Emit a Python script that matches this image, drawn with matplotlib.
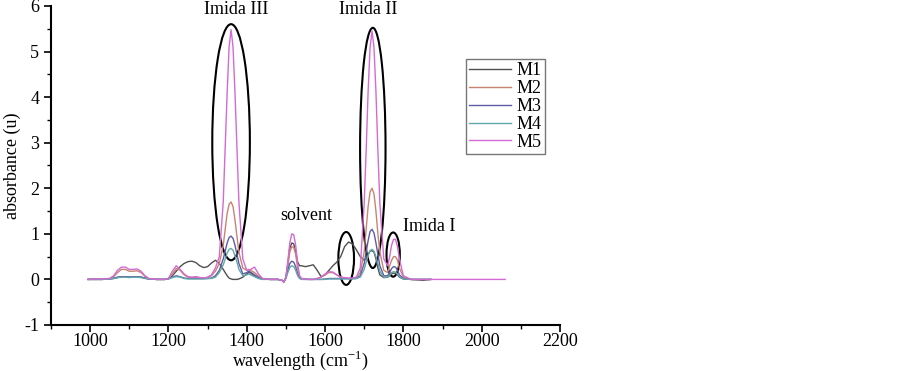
import numpy as np
import matplotlib
matplotlib.use("Agg")
import matplotlib.pyplot as plt
from matplotlib.patches import Ellipse
from matplotlib.ticker import MultipleLocator

plt.rcParams['font.family'] = ['Liberation Serif', 'DejaVu Serif']
plt.rcParams['mathtext.fontset'] = 'custom'
plt.rcParams['mathtext.rm'] = 'Liberation Serif'
plt.rcParams['font.size'] = 13
plt.rcParams['axes.unicode_minus'] = False

nan = np.nan

# wavenumber grid (cm^-1)
wavenumber = [995, 1010, 1030, 1050, 1060, 1070, 1080, 1090, 1100, 1110,
              1120, 1130, 1140, 1150, 1170, 1190, 1200, 1210, 1220, 1230,
              1240, 1250, 1260, 1270, 1280, 1290, 1300, 1310, 1320, 1330,
              1340, 1345, 1350, 1355, 1360, 1365, 1370, 1375, 1380, 1390,
              1400, 1405, 1410, 1420, 1430, 1440, 1460, 1480, 1490, 1495,
              1500, 1505, 1510, 1515, 1520, 1525, 1530, 1535, 1540, 1550,
              1560, 1570, 1580, 1590, 1600, 1610, 1620, 1630, 1640, 1650,
              1660, 1670, 1680, 1690, 1700, 1705, 1710, 1715, 1720, 1725,
              1730, 1735, 1740, 1750, 1760, 1765, 1770, 1775, 1780, 1785,
              1790, 1800, 1820, 1850, 1870, 1900, 2000, 2060]

m1 = [0, 0, 0, 0.01, 0.02, 0.04, 0.06, 0.06, 0.05, 0.06,
      0.06, 0.05, 0.03, 0.01, 0, 0, 0.02, 0.08, 0.18, 0.28,
      0.35, 0.39, 0.40, 0.37, 0.30, 0.26, 0.28, 0.36, 0.42, 0.35,
      0.22, 0.15, 0.08, 0.03, 0.01, 0, 0, 0, 0.01, 0.05,
      0.12, 0.15, 0.14, 0.08, 0.03, 0.01, 0, 0, -0.02, -0.06,
      0.04, 0.35, 0.68, 0.80, 0.78, 0.60, 0.38, 0.30, 0.30, 0.28,
      0.30, 0.32, 0.20, 0.06, 0.10, 0.20, 0.30, 0.38, 0.50, 0.72,
      0.82, 0.78, 0.65, 0.50, 0.42, 0.45, 0.55, 0.62, 0.63, 0.60,
      0.45, 0.25, 0.10, 0.04, 0.05, 0.08, 0.12, 0.14, 0.13, 0.10,
      0.05, 0.01, 0, -0.02, 0, nan, nan, nan]

m2 = [0, 0.01, 0.01, 0.02, 0.06, 0.15, 0.22, 0.22, 0.18, 0.18,
      0.19, 0.15, 0.07, 0.02, 0, 0, 0.02, 0.12, 0.24, 0.20,
      0.10, 0.05, 0.04, 0.05, 0.04, 0.03, 0.04, 0.08, 0.18, 0.35,
      0.75, 1.10, 1.45, 1.65, 1.70, 1.60, 1.30, 0.95, 0.60, 0.25,
      0.20, 0.22, 0.20, 0.15, 0.07, 0.02, 0, 0, -0.02, -0.05,
      0.04, 0.30, 0.60, 0.72, 0.70, 0.55, 0.25, 0.06, 0.02, 0.01,
      0, 0, 0.02, 0.05, 0.10, 0.15, 0.15, 0.10, 0.05, 0.03,
      0.02, 0.02, 0.04, 0.15, 0.60, 1.10, 1.60, 1.92, 2.00, 1.88,
      1.50, 1.00, 0.60, 0.20, 0.15, 0.30, 0.42, 0.50, 0.50, 0.42,
      0.25, 0.05, 0, 0, 0, nan, nan, nan]

m3 = [0, 0, 0, 0.01, 0.03, 0.05, 0.06, 0.06, 0.05, 0.06,
      0.06, 0.05, 0.03, 0.01, 0, 0, 0.01, 0.05, 0.08, 0.06,
      0.03, 0.02, 0.02, 0.02, 0.02, 0.02, 0.02, 0.03, 0.08, 0.20,
      0.45, 0.62, 0.80, 0.92, 0.95, 0.90, 0.75, 0.55, 0.35, 0.12,
      0.15, 0.18, 0.16, 0.10, 0.04, 0.01, 0, 0, -0.02, -0.05,
      0.03, 0.20, 0.35, 0.40, 0.38, 0.28, 0.12, 0.03, 0.01, 0,
      0, 0, 0, 0, 0.01, 0.02, 0.02, 0.02, 0.02, 0.02,
      0.02, 0.02, 0.02, 0.08, 0.35, 0.60, 0.85, 1.05, 1.10, 1.02,
      0.80, 0.55, 0.30, 0.08, 0.08, 0.15, 0.24, 0.28, 0.27, 0.20,
      0.10, 0.02, 0, 0, 0, nan, nan, nan]

m4 = [0, 0, 0, 0.01, 0.02, 0.04, 0.05, 0.05, 0.04, 0.05,
      0.05, 0.04, 0.02, 0.01, 0, 0, 0.01, 0.04, 0.06, 0.05,
      0.02, 0.01, 0.01, 0.01, 0.01, 0.01, 0.02, 0.02, 0.05, 0.15,
      0.32, 0.45, 0.58, 0.66, 0.68, 0.64, 0.52, 0.38, 0.22, 0.08,
      0.10, 0.12, 0.10, 0.06, 0.02, 0, 0, 0, -0.02, -0.04,
      0.02, 0.15, 0.26, 0.30, 0.28, 0.20, 0.08, 0.02, 0, 0,
      0, 0, 0, 0, 0, 0.01, 0.01, 0.01, 0.01, 0.01,
      0.01, 0.01, 0.02, 0.05, 0.22, 0.38, 0.52, 0.63, 0.66, 0.62,
      0.50, 0.35, 0.18, 0.05, 0.05, 0.10, 0.15, 0.17, 0.16, 0.12,
      0.06, 0.01, 0, 0, 0, nan, nan, nan]

m5 = [0, 0.01, 0.01, 0.02, 0.08, 0.20, 0.27, 0.27, 0.22, 0.22,
      0.23, 0.18, 0.08, 0.02, 0, 0, 0.02, 0.18, 0.30, 0.22,
      0.12, 0.06, 0.05, 0.06, 0.04, 0.03, 0.05, 0.10, 0.25, 0.50,
      1.70, 2.90, 4.10, 5.10, 5.48, 5.10, 4.10, 2.90, 1.70, 0.45,
      0.20, 0.20, 0.22, 0.27, 0.12, 0.02, 0, 0, -0.02, -0.06,
      0.05, 0.40, 0.80, 1.00, 0.98, 0.75, 0.35, 0.08, 0.02, 0.01,
      0, 0, 0.02, 0.05, 0.12, 0.17, 0.16, 0.10, 0.05, 0.04,
      0.03, 0.03, 0.05, 0.25, 1.67, 2.82, 4.12, 5.09, 5.45, 5.09,
      4.12, 2.82, 1.67, 0.45, 0.30, 0.50, 0.75, 0.88, 0.88, 0.72,
      0.45, 0.08, 0, 0, 0, 0, 0, 0]

labels = ['M1', 'M2', 'M3', 'M4', 'M5']
colours = ['#4f4f4f', '#c88470', '#5c5ca6', '#62a8aa', '#d46ad4']

# annotation ellipses: centre x, centre y, width, height
ell_x = [1360, 1722, 1654, 1774]
ell_y = [3.01, 2.885, 0.46, 0.545]
ell_w = [96, 65, 40, 34]
ell_h = [5.18, 5.27, 1.16, 0.97]

notes = ['Imida III', 'Imida II', 'solvent', 'Imida I']
note_x = [1374, 1710, 1551, 1866]
note_y = [5.93, 5.93, 1.41, 1.15]

fig = plt.figure(figsize=(9.02, 3.71), dpi=100)
ax = fig.add_axes([0.0565, 0.124, 0.5643, 0.86])

for series, lab, col in zip([m1, m2, m3, m4, m5], labels, colours):
    ax.plot(wavenumber, series, color=col, lw=1.0, label=lab)

for cx, cy, w, h in zip(ell_x, ell_y, ell_w, ell_h):
    ax.add_patch(Ellipse((cx, cy), w, h, fill=False, edgecolor='black', lw=1.5))

for t, tx, ty in zip(notes, note_x, note_y):
    ax.text(tx, ty, t, ha='center', va='center', fontsize=13)

ax.set_xlim(900, 2200)
ax.set_ylim(-1, 6)
ax.xaxis.set_minor_locator(MultipleLocator(100))
ax.yaxis.set_major_locator(MultipleLocator(1))
ax.yaxis.set_minor_locator(MultipleLocator(0.5))
ax.set_xticks(np.arange(1000, 2201, 200))
ax.tick_params(which='major', direction='out', length=5, width=1.2, labelsize=13)
ax.tick_params(axis='x', which='major', pad=1)
ax.tick_params(which='minor', direction='out', length=3, width=1.0)
for side in ['top', 'right']:
    ax.spines[side].set_visible(False)
for side in ['left', 'bottom']:
    ax.spines[side].set_linewidth(1.5)

ax.set_xlabel(r'wavelength (cm$^{-1}$)', fontsize=13)
ax.set_ylabel('absorbance (u)', fontsize=13)
ax.xaxis.set_label_coords(0.49, -0.112, transform=ax.transAxes)
ax.yaxis.set_label_coords(-0.075, 0.5, transform=ax.transAxes)
ax.xaxis.label.set_va('center')
ax.yaxis.label.set_va('center')

leg = ax.legend(loc='upper left', bbox_to_anchor=(0.815, 0.835), fontsize=13,
                frameon=True, fancybox=False, handlelength=2.3, handletextpad=0.3,
                labelspacing=0.05, borderpad=0.2, borderaxespad=0)
leg.get_frame().set_edgecolor('#555555')
leg.get_frame().set_linewidth(1.0)

fig.savefig('out.png', dpi=100)
